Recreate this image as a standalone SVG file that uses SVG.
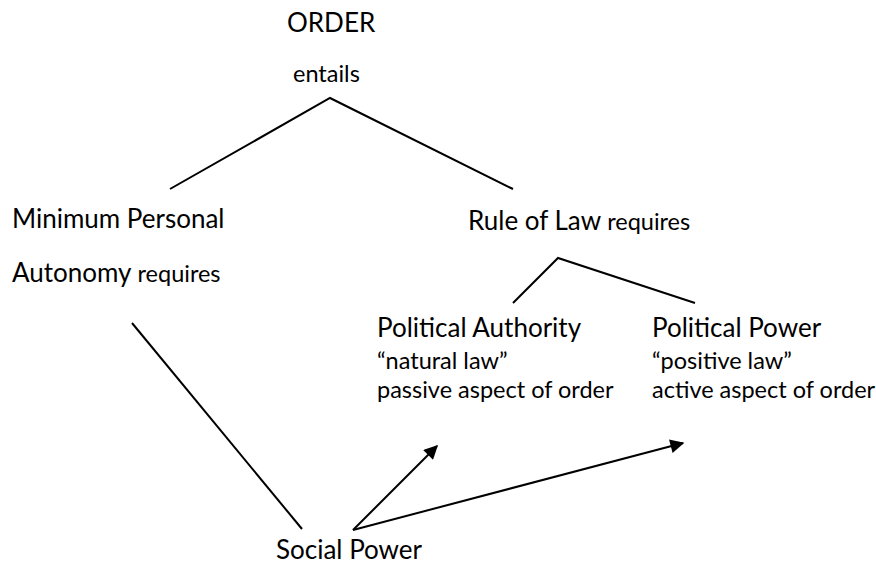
<svg xmlns="http://www.w3.org/2000/svg" width="876" height="566" viewBox="0 0 876 566">
  <style>
    text { font-family: Lato, "Open Sans", "Liberation Sans", sans-serif; fill: #000; }
    .big { font-size: 26px; }
    .small { font-size: 23.5px; }
    .edge { stroke: #000; stroke-width: 2; fill: none; }
  </style>
  <defs>
    <marker id="head" viewBox="0 0 10 10" refX="9" refY="5" markerWidth="8.5" markerHeight="7" markerUnits="strokeWidth" orient="auto">
      <path d="M0,0 L10,5 L0,10 z" fill="#000"/>
    </marker>
  </defs>
  <rect width="876" height="566" fill="#fff"/>

  <g id="connectors">
    <polyline class="edge" points="170,189 330,98 513,189"/>
    <polyline class="edge" points="513,303 558,258 695,303"/>
    <line class="edge" x1="132" y1="323" x2="302" y2="529"/>
    <line class="edge" x1="353" y1="530" x2="437" y2="446" marker-end="url(#head)"/>
    <line class="edge" x1="353" y1="530" x2="683" y2="443" marker-end="url(#head)"/>
  </g>

  <g id="order">
    <text class="big" x="287" y="32">ORDER</text>
    <text class="small" x="293" y="82">entails</text>
  </g>
  <g id="autonomy">
    <text class="big" x="12" y="228">Minimum Personal</text>
    <text x="12" y="282"><tspan class="big">Autonomy</tspan><tspan class="small"> requires</tspan></text>
  </g>
  <g id="rule-of-law">
    <text x="468" y="230"><tspan class="big">Rule of Law</tspan><tspan class="small"> requires</tspan></text>
  </g>
  <g id="political-authority">
    <text class="big" x="377" y="337">Political Authority</text>
    <text class="small" x="377" y="369">“natural law”</text>
    <text class="small" x="377" y="398">passive aspect of order</text>
  </g>
  <g id="political-power">
    <text class="big" x="652" y="337">Political Power</text>
    <text class="small" x="652" y="369">“positive law”</text>
    <text class="small" x="652" y="398">active aspect of order</text>
  </g>
  <g id="social-power">
    <text class="big" x="276" y="559">Social Power</text>
  </g>
</svg>
